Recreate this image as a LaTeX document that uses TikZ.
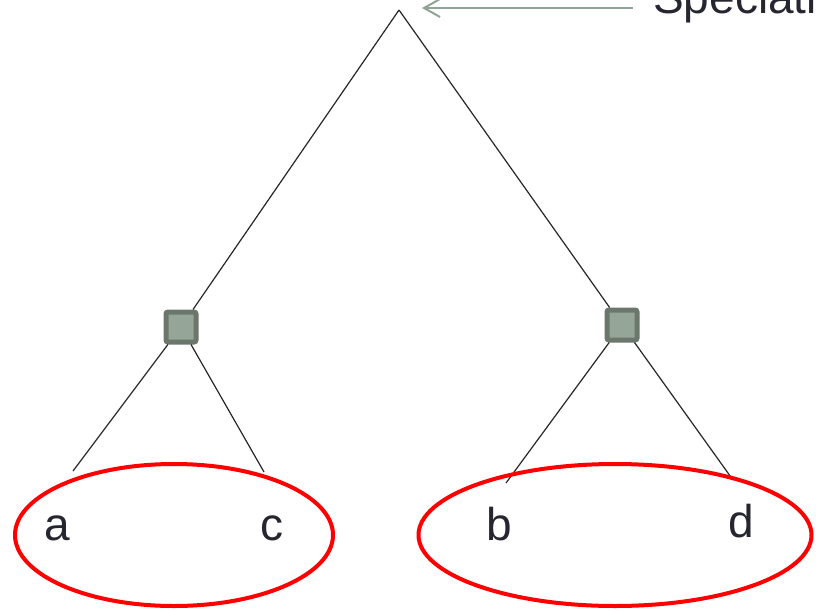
\documentclass[tikz,border=0pt]{standalone}
\usepackage{fontspec}
\setmainfont{Liberation Sans}
\usetikzlibrary{shapes.geometric,arrows.meta}
\definecolor{sqfill}{HTML}{95A598}
\definecolor{sqedge}{HTML}{6B776D}
\definecolor{arrowgray}{HTML}{8FA396}
\definecolor{txt}{HTML}{262630}
\definecolor{ellred}{HTML}{FF0000}
\begin{document}
\begin{tikzpicture}[x=1pt,y=-1pt,
  dupbox/.style={rectangle,draw=sqedge,fill=sqfill,line width=5pt,minimum size=30pt,inner sep=0pt,rounded corners=2pt},
  branch/.style={draw=black!85,line width=1.2pt},
  clade/.style={ellipse,draw=ellred,line width=4pt,inner sep=0pt},
  leaf/.style={anchor=base,text=txt,font=\fontsize{46}{50}\selectfont,inner sep=0pt},
  callout/.style={draw=arrowgray,line width=2pt,-{Straight Barb[length=16pt,width=18pt,line width=2pt]}}
]
\useasboundingbox (0,0) rectangle (816,610);
\clip (0,0) rectangle (816,610);
\coordinate (root) at (399,10);
\node[dupbox] (L) at (181,327) {};
\node[dupbox] (R) at (622,325) {};
\coordinate (la) at (73,471);
\coordinate (lc) at (264,472);
\coordinate (lb) at (506,483);
\coordinate (ld) at (733,480);
\draw[branch] (root) -- (L);
\draw[branch] (root) -- (R);
\draw[branch] (L) -- (la);
\draw[branch] (L) -- (lc);
\draw[branch] (R) -- (lb);
\draw[branch] (R) -- (ld);
\node[clade,minimum width=318pt,minimum height=142pt] (E1) at (174,535) {};
\node[clade,minimum width=393pt,minimum height=142pt] (E2) at (615,535) {};
\node[leaf] (a) at (57,540) {a};
\node[leaf] (c) at (272,540) {c};
\node[leaf] (b) at (499,540) {b};
\node[leaf] (d) at (741,537) {d};
\node[anchor=base west,text=txt,font=\fontsize{46}{50}\selectfont,inner sep=0pt] (spec) at (653,14) {Speciation};
\draw[callout] (spec.west |- 0,8) ++(-20,0) coordinate (arrstart) -- (422,8) coordinate (arrend);
\end{tikzpicture}
\end{document}
